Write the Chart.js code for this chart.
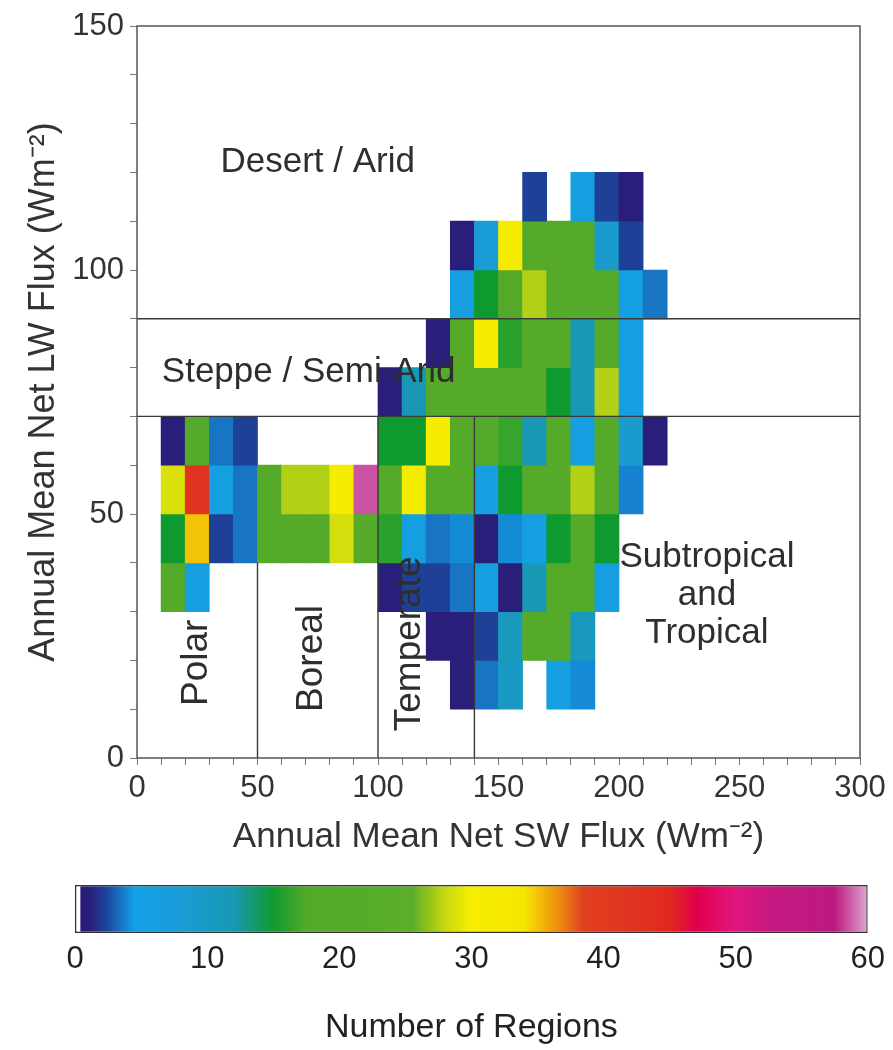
<!DOCTYPE html>
<html>
<head>
<meta charset="utf-8">
<script src="https://cdn.jsdelivr.net/npm/chart.js@4.4.1/dist/chart.umd.min.js"></script>
<style>
  body { margin: 0; background: #fff; }
  #wrap { position: relative; width: 893px; height: 1050px; }
  #heat { position: absolute; left: 0; top: 0; }
  #scale { position: absolute; left: 0; top: 860px; }
</style>
</head>
<body>
<div id="wrap">
  <canvas id="heat" width="893" height="870"></canvas>
  <canvas id="scale" width="893" height="190"></canvas>
</div>
<script>
// number of regions per 10x10 Wm-2 bin
// columns: SW bins 10-20 ... 210-220, one array per LW band (bottom edge)
var swBins = [10, 20, 30, 40, 50, 60, 70, 80, 90, 100, 110, 120, 130, 140, 150, 160, 170, 180, 190, 200, 210];
var lwBands = [10, 20, 30, 40, 50, 60, 70, 80, 90, 100, 110];
var binSize = 10;
var _ = null;

var lw10  = [_, _, _, _, _, _, _, _, _, _, _, _, 1, 3.5, 10, _, 6, 4, _, _, _];
var lw20  = [_, _, _, _, _, _, _, _, _, _, _, 1, 1, 2.2, 11, 20, 20, 11, _, _, _];
var lw30  = [20, 6, _, _, _, _, _, _, _, 1, 2.2, 2.2, 3.5, 6, 1, 12, 20, 20, 6, _, _];
var lw40  = [15, 35, 2.2, 3.5, 20, 20, 20, 28.5, 20, 16, 6, 3.5, 4, 1, 4, 6, 15, 20, 15, _, _];
var lw50  = [28.8, 42, 6, 3.5, 20, 27.5, 27.5, 31, 58.5, 20, 31, 20, 20, 6, 15, 20, 20, 27.5, 20, 3.8, _];
var lw60  = [1, 20, 3.5, 2.2, _, _, _, _, _, 15, 15, 31, 20, 20, 16.5, 12, 20, 6, 20, 9, 1];
var lw70  = [_, _, _, _, _, _, _, _, _, 1, 12, 20, 20, 20, 20, 20, 15, 12, 27.5, 6, _];
var lw80  = [_, _, _, _, _, _, _, _, _, _, _, 1, 20, 31, 16, 20, 20, 12, 20, 6, _];
var lw90  = [_, _, _, _, _, _, _, _, _, _, _, _, 6, 15, 20, 27.5, 20, 20, 20, 5.5, 3.5];
var lw100 = [_, _, _, _, _, _, _, _, _, _, _, _, 1, 8, 31, 20, 20, 20, 9, 2.2, _];
var lw110 = [_, _, _, _, _, _, _, _, _, _, _, _, _, _, _, 2.2, _, 6, 2.2, 1, _];
var lwRows = [lw10, lw20, lw30, lw40, lw50, lw60, lw70, lw80, lw90, lw100, lw110];

// colour bar 0..60
var cmapValues = [0, 0.35, 0.45, 1.2, 2.5, 4.5, 8, 12, 15, 17.5, 25.5, 28, 30, 34, 36.5, 38.5, 45, 47, 50, 53, 57.5, 59.5, 60];
var cmapColors = ['#ffffff', '#ffffff', '#2a1c7c', '#28207a', '#1c4aa0', '#12a0e8', '#1a9cd6', '#1898b4',
                  '#0f9a30', '#52aa28', '#5aae2a', '#c8d810', '#f6ee00', '#f6e600', '#ee9010', '#e04020',
                  '#e02a20', '#e0004a', '#e01680', '#c41880', '#bc1a80', '#d88ac0', '#e0b0d0'];
var scaleTicks = [0, 10, 20, 30, 40, 50, 60];

// climate zone boundaries
var desertLine = [{x: 0, y: 90}, {x: 300, y: 90}];
var steppeLine = [{x: 0, y: 70}, {x: 300, y: 70}];
var polarLine = [{x: 50, y: 0}, {x: 50, y: 40}];
var borealLine = [{x: 100, y: 0}, {x: 100, y: 70}];
var temperateLine = [{x: 140, y: 0}, {x: 140, y: 70}];

Chart.defaults.font.family = "'Liberation Sans', Arial, Helvetica, sans-serif";
Chart.defaults.color = '#333';

function hexRgb(h) {
    return [parseInt(h.substr(1, 2), 16), parseInt(h.substr(3, 2), 16), parseInt(h.substr(5, 2), 16)];
}

function colourFor(v) {
    if (v == null) return 'rgba(0,0,0,0)';
    for (var i = 1; i < cmapValues.length; i++) {
        if (v <= cmapValues[i]) {
            var t = (v - cmapValues[i - 1]) / (cmapValues[i] - cmapValues[i - 1]);
            var a = hexRgb(cmapColors[i - 1]), b = hexRgb(cmapColors[i]);
            return 'rgb(' + Math.round(a[0] + (b[0] - a[0]) * t) + ',' +
                Math.round(a[1] + (b[1] - a[1]) * t) + ',' +
                Math.round(a[2] + (b[2] - a[2]) * t) + ')';
        }
    }
    return cmapColors[cmapColors.length - 1];
}

var cells = [];
lwRows.forEach(function(row, r) {
    row.forEach(function(v, c) {
        if (v == null) return;
        cells.push({x: swBins[c] + binSize / 2, y: [lwBands[r], lwBands[r] + binSize], v: v});
    });
});

function zoneLine(points) {
    return {type: 'line', data: points, borderColor: '#3a3a3a', borderWidth: 1.4,
            pointRadius: 0, fill: false, order: 1};
}

var zoneText = {
    id: 'zoneText',
    afterDatasetsDraw: function(chart) {
        var c = chart.ctx, a = chart.chartArea;
        var sx = chart.scales.x, sy = chart.scales.y;
        c.save();
        c.strokeStyle = '#555';
        c.lineWidth = 1.5;
        c.strokeRect(a.left, a.top, a.right - a.left, a.bottom - a.top);

        c.fillStyle = '#2e2e2e';
        c.font = "35px 'Liberation Sans', Arial, sans-serif";
        c.textBaseline = 'middle';
        c.textAlign = 'center';
        c.fillText('Desert / Arid', sx.getPixelForValue(75), sy.getPixelForValue(122));
        c.textAlign = 'left';
        c.fillText('Steppe / Semi-Arid', sx.getPixelForValue(10.3), sy.getPixelForValue(79));
        c.textAlign = 'center';
        c.fillText('Subtropical', sx.getPixelForValue(236.5), sy.getPixelForValue(41.2));
        c.fillText('and', sx.getPixelForValue(236.5), sy.getPixelForValue(33.4));
        c.fillText('Tropical', sx.getPixelForValue(236.5), sy.getPixelForValue(25.6));

        c.font = "37px 'Liberation Sans', Arial, sans-serif";
        var rotated = [['Polar', 24.8, 19.5], ['Boreal', 72.4, 20.4], ['Temperate', 113.3, 23.4]];
        rotated.forEach(function(t) {
            c.save();
            c.translate(sx.getPixelForValue(t[1]), sy.getPixelForValue(t[2]));
            c.rotate(-Math.PI / 2);
            c.fillText(t[0], 0, 0);
            c.restore();
        });
        c.restore();
    }
};

new Chart(document.getElementById('heat'), {
    type: 'bar',
    data: {
        datasets: [
            {
                type: 'bar',
                data: cells,
                backgroundColor: function(ctx) { return colourFor(ctx.raw ? ctx.raw.v : null); },
                borderWidth: 0,
                barPercentage: 1,
                categoryPercentage: 1,
                order: 2
            },
            zoneLine(desertLine),
            zoneLine(steppeLine),
            zoneLine(polarLine),
            zoneLine(borealLine),
            zoneLine(temperateLine)
        ]
    },
    options: {
        responsive: false,
        animation: false,
        devicePixelRatio: 1,
        layout: {padding: {top: 26, right: 33, left: 0, bottom: 0}},
        plugins: {legend: {display: false}, tooltip: {enabled: false}},
        scales: {
            x: {
                type: 'linear', min: 0, max: 300, offset: false,
                grid: {offset: false, drawOnChartArea: false, tickLength: 7, color: '#777'},
                border: {display: false},
                ticks: {stepSize: 10, autoSkip: false, maxRotation: 0, padding: 5,
                        font: {size: 31}, color: '#333',
                        callback: function(v) { return v % 50 === 0 ? v : ''; }},
                title: {display: true, text: 'Annual Mean Net SW Flux (Wm\u207B\u00B2)',
                        font: {size: 35}, color: '#333', padding: {top: 0, bottom: 12}},
                afterFit: function(s) { s.height = 112; }
            },
            y: {
                min: 0, max: 150,
                grid: {drawOnChartArea: false, tickLength: 7, color: '#777'},
                border: {display: false},
                ticks: {stepSize: 10, autoSkip: false, padding: 6,
                        font: {size: 31}, color: '#333',
                        callback: function(v) { return v % 50 === 0 ? v : ''; }},
                title: {display: true, text: 'Annual Mean Net LW Flux (Wm\u207B\u00B2)',
                        font: {size: 36}, color: '#333', padding: {top: 22, bottom: 0}},
                afterFit: function(s) { s.width = 137; }
            }
        }
    },
    plugins: [zoneText]
});

function barGradient(ctx) {
    var chart = ctx.chart;
    if (!chart.chartArea) return '#fff';
    var sx = chart.scales.x;
    var g = chart.ctx.createLinearGradient(sx.getPixelForValue(0), 0, sx.getPixelForValue(60), 0);
    cmapValues.forEach(function(v, i) { g.addColorStop(v / 60, cmapColors[i]); });
    return g;
}

new Chart(document.getElementById('scale'), {
    type: 'bar',
    data: {
        labels: ['regions'],
        datasets: [{
            data: [[scaleTicks[0], scaleTicks[scaleTicks.length - 1]]],
            backgroundColor: barGradient,
            borderColor: '#333',
            borderWidth: 1.5,
            borderSkipped: false,
            barPercentage: 1,
            categoryPercentage: 1,
            inflateAmount: 0
        }]
    },
    options: {
        indexAxis: 'y',
        responsive: false,
        animation: false,
        devicePixelRatio: 1,
        layout: {padding: {left: 75, right: 23, top: 25, bottom: 0}},
        plugins: {legend: {display: false}, tooltip: {enabled: false}},
        scales: {
            y: {display: false},
            x: {
                type: 'linear', min: 0, max: 60,
                grid: {display: false, drawTicks: false},
                border: {display: false},
                afterBuildTicks: function(s) { s.ticks = scaleTicks.map(function(v) { return {value: v}; }); },
                ticks: {padding: 8, font: {size: 31}, color: '#222', maxRotation: 0},
                title: {display: true, text: 'Number of Regions', font: {size: 34}, color: '#222',
                        padding: {top: 0, bottom: 2}},
                afterFit: function(s) { s.height = 117; }
            }
        }
    }
});
</script>
</body>
</html>
